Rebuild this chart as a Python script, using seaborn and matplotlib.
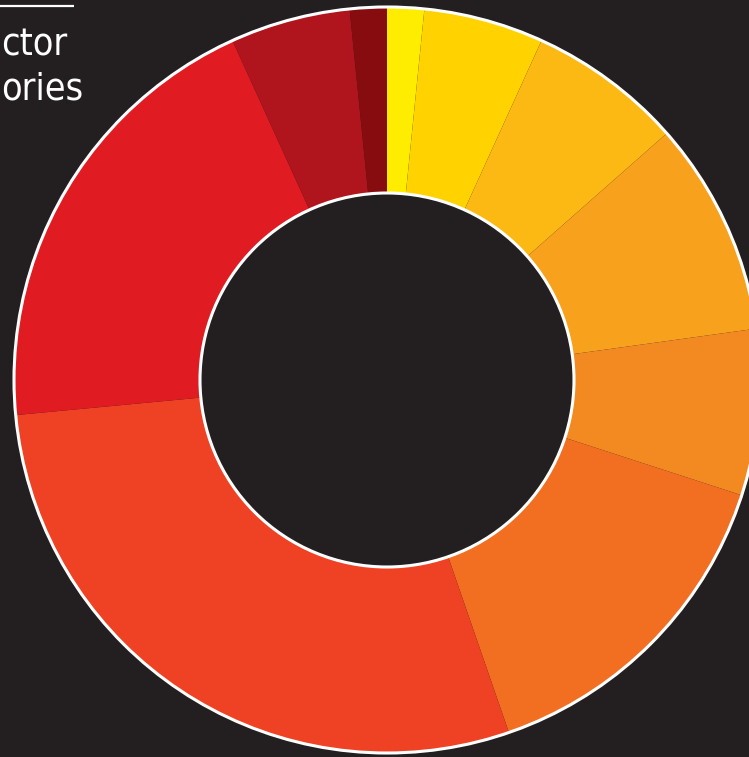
import matplotlib
matplotlib.use('Agg')
import matplotlib.pyplot as plt
from matplotlib.patches import Circle
import seaborn as sns

# share of each category (%), clockwise from 12 o'clock
categories = ['A', 'B', 'C', 'D', 'E', 'F', 'G', 'H', 'I', 'J']
shares = [1.6, 5.2, 6.7, 9.3, 7.2, 14.7, 28.8, 19.7, 5.2, 1.6]
colors = ['#FFED00', '#FFD200', '#FDB913', '#F7A11D', '#F38A21',
          '#F26F21', '#EF4123', '#E11B22', '#B0141C', '#870C10']
# only the tail of the title is visible in the crop
title_lines = ['ctor', 'ories']

bg = '#231F20'
sns.set_style('dark', {'axes.facecolor': bg, 'figure.facecolor': bg})
plt.rcParams['font.family'] = ['DejaVu Sans']

fig = plt.figure(figsize=(7.49, 7.57), dpi=100)
ax = fig.add_axes([0, 0, 1, 1])

cx, cy, r_out, r_in = 387, 377, 373, 187
ax.pie(shares, colors=colors, startangle=90, counterclock=False,
       center=(cx, cy), radius=r_out, frame=True,
       wedgeprops=dict(width=r_out - r_in, linewidth=0))
ax.set_xlim(0, 749)
ax.set_ylim(0, 757)
ax.set_aspect('equal')
ax.axis('off')

ax.add_patch(Circle((cx, cy), r_out, fill=False, ec='white', lw=2.2))
ax.add_patch(Circle((cx, cy), r_in, fill=False, ec='white', lw=2.2))

ax.plot([0, 74], [751, 751], color='white', lw=1.6, solid_capstyle='butt')
ax.text(1, 702, title_lines[0], color='white', fontsize=27, fontstretch='condensed',
        ha='left', va='baseline')
ax.text(1, 657, title_lines[1], color='white', fontsize=27, fontstretch='condensed',
        ha='left', va='baseline')

fig.savefig('out.png', dpi=100, facecolor=bg)
